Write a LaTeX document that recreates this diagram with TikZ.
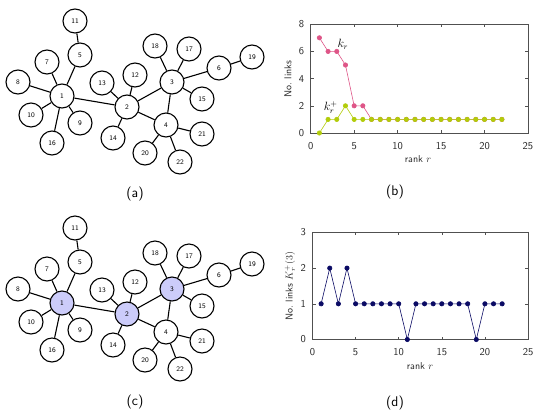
\documentclass[tikz,border=0pt]{standalone}
\usepackage{amsmath}
\usepackage{tikz}
\usetikzlibrary{positioning}
\definecolor{hubBlue}{RGB}{204,204,250}
\definecolor{krPink}{RGB}{222,85,135}
\definecolor{kpLime}{RGB}{178,204,10}
\definecolor{kNavy}{RGB}{10,10,100}
\definecolor{axGray}{RGB}{80,80,80}

\begin{document}
\begin{tikzpicture}[x=1pt,y=-1pt,font=\sffamily,
  vtx/.style={circle,draw,line width=1.1pt,minimum size=24pt,inner sep=0pt,
              fill=white,font=\sffamily\fontsize{7}{8}\selectfont},
  vtxA/.style={vtx}, vtxC/.style={vtx},
  hubA/.style={vtx}, hubC/.style={vtx,fill=hubBlue},
  edge/.style={line width=1.1pt},
  frame/.style={draw=axGray,line width=0.7pt},
  axtick/.style={draw=axGray,line width=0.5pt},
  ticklab/.style={font=\sffamily\fontsize{10.5}{12}\selectfont,text=black!85},
  axlab/.style={font=\sffamily\fontsize{10}{12}\selectfont,text=black!85},
  panel/.style={font=\sffamily\fontsize{14}{16}\selectfont},
  curvelab/.style={font=\fontsize{12}{14}\selectfont,inner sep=0.5pt},
  series/.style={line width=0.6pt,mark=*,mark size=2.2pt}]
\useasboundingbox (0,0) rectangle (545,418);

% Networks (a) and (c)
\foreach \g/\dy in {A/0,C/207}{
  \begin{scope}[shift={(0,\dy)}]
  \foreach \n/\x/\y/\k in {1/62/96/hub, 2/127/107/hub, 3/172/82/hub, 4/166/125/vtx,
      5/80/55/vtx, 6/219/68/vtx, 7/47/62/vtx, 8/18/82/vtx, 9/80/123/vtx,
      10/31/115/vtx, 11/75/21/vtx, 12/135/75/vtx, 13/102/83/vtx, 14/113/138/vtx,
      15/202/99/vtx, 16/52/143/vtx, 17/189/49/vtx, 18/155/46/vtx, 19/252/57/vtx,
      20/145/153/vtx, 21/202/134/vtx, 22/180/162/vtx}
    \node[\k\g] (\g\n) at (\x,\y) {\n};
  \foreach \u/\v in {1/2, 1/5, 5/11, 1/7, 1/8, 1/10, 1/16, 1/9, 2/13, 2/12,
      2/14, 2/3, 2/4, 3/4, 3/18, 3/17, 3/6, 6/19, 3/15, 4/21, 4/20, 4/22}
    \draw[edge] (\g\u) -- (\g\v);
  \end{scope}
}
\node[panel] (capA) at (135,194) {(a)};
\node[panel] (capC) at (135,402) {(c)};

% Plot (b): links per rank
\begin{scope}[shift={(310.7,133)},x=8.69pt,y=13.6pt]
  \draw[frame] (0,0) rectangle (25,8);
  \foreach \t in {0,5,...,25}{
    \draw[axtick] (\t,0) -- ++(0,3pt) (\t,8) -- ++(0,-3pt);
    \node[ticklab] (bx\t) at ([yshift=-13pt]\t,0) {\t};
  }
  \foreach \t in {0,2,...,8}{
    \draw[axtick] (0,\t) -- ++(3pt,0) (25,\t) -- ++(-3pt,0);
    \node[ticklab,anchor=east] (by\t) at ([xshift=-3pt]0,\t) {\t};
  }
  \draw[series,krPink] plot coordinates {(1,7) (2,6) (3,6) (4,5) (5,2) (6,2)
      (7,1) (8,1) (9,1) (10,1) (11,1) (12,1) (13,1) (14,1) (15,1) (16,1)
      (17,1) (18,1) (19,1) (20,1) (21,1) (22,1)};
  \draw[series,kpLime] plot coordinates {(1,0) (2,1) (3,1) (4,2) (5,1) (6,1)
      (7,1) (8,1) (9,1) (10,1) (11,1) (12,1) (13,1) (14,1) (15,1) (16,1)
      (17,1) (18,1) (19,1) (20,1) (21,1) (22,1)};
  \node[curvelab] (kr) at (3.7,6.5) {$k_r$};
  \node[curvelab] (kp) at (2.3,1.85) {$k_r^+$};
\end{scope}
\node[axlab,rotate=90] (bylab) at (288,79) {No.\ links};
\node[axlab] (bxlab) at (418,159) {rank $r$};
\node[panel] (capB) at (395,192) {(b)};

% Plot (d): links to node 3 per rank
\begin{scope}[shift={(312.5,339.5)},x=8.62pt,y=35.7pt]
  \draw[frame] (0,0) rectangle (25,3);
  \foreach \t in {0,5,...,25}{
    \draw[axtick] (\t,0) -- ++(0,3pt) (\t,3) -- ++(0,-3pt);
    \node[ticklab] (dx\t) at ([yshift=-13pt]\t,0) {\t};
  }
  \foreach \t in {0,1,2,3}{
    \draw[axtick] (0,\t) -- ++(3pt,0) (25,\t) -- ++(-3pt,0);
    \node[ticklab,anchor=east] (dy\t) at ([xshift=-3pt]0,\t) {\t};
  }
  \draw[series,kNavy] plot coordinates {(1,1) (2,2) (3,1) (4,2) (5,1) (6,1)
      (7,1) (8,1) (9,1) (10,1) (11,0) (12,1) (13,1) (14,1) (15,1) (16,1)
      (17,1) (18,1) (19,0) (20,1) (21,1) (22,1)};
\end{scope}
\node[axlab,rotate=90] (dylab) at (290,286) {No.\ links $K_r^+(3)$};
\node[axlab] (dxlab) at (420,366) {rank $r$};
\node[panel] (capD) at (395,403) {(d)};
\end{tikzpicture}
\end{document}
